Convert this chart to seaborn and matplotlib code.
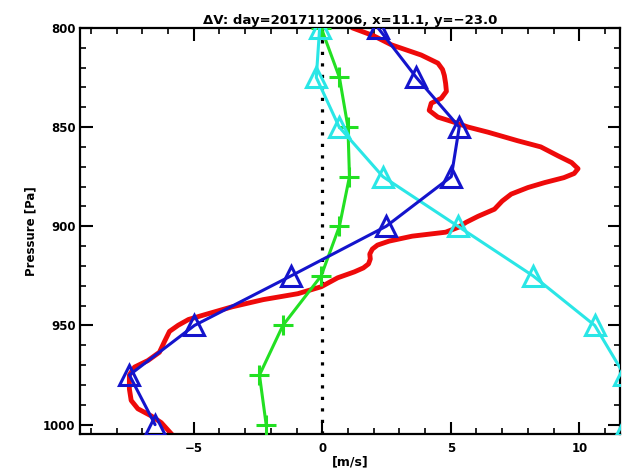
import matplotlib
matplotlib.use("Agg")
import matplotlib.pyplot as plt
from matplotlib.ticker import MultipleLocator
import pandas as pd
import seaborn as sns

sns.set_theme(style="white", rc={"text.color": "black", "axes.labelcolor": "black",
                                 "xtick.color": "black", "ytick.color": "black"})
plt.rcParams["font.family"] = ["DejaVu Sans"]

# Model levels (Pa) for the sampled profiles
levels = [800, 825, 850, 875, 900, 925, 950, 975, 1000]

# Wind-difference profiles at the model levels [m/s]
blue_dv = [2.17, 3.66, 5.33, 5.02, 2.49, -1.21, -4.97, -7.5, -6.5]
cyan_dv = [-0.1, -0.23, 0.66, 2.36, 5.28, 8.2, 10.6, 11.75, 11.8]
green_dv = [-0.04, 0.67, 1.0, 1.06, 0.67, -0.04, -1.53, -2.44, -2.18]

# High-resolution reference profile
red_p = [800, 804, 808.6, 813.7, 817.8, 821, 824, 828, 832, 835.5, 838, 841.6,
         845, 847.6, 850, 852.6, 856.9, 860, 864.5, 867.9, 871, 873.4, 875.5,
         878, 880.5, 883.8, 887.3, 891.4, 895, 898, 900.5, 903, 905, 907.5,
         909.5, 911.5, 914, 916.5, 919, 921, 923, 926, 930.5, 934, 937, 940.6,
         944.7, 947, 949.9, 953, 958, 963.5, 967.7, 971, 975, 982, 987.8, 992,
         995.6, 999, 1005.6]
red_dv = [1.17, 2.0, 2.7, 3.85, 4.5, 4.68, 4.75, 4.8, 4.83, 4.63, 4.24, 4.16,
          4.5, 5.14, 5.67, 6.45, 7.6, 8.5, 9.17, 9.7, 9.95, 9.8, 9.4, 8.65,
          8.0, 7.35, 7.0, 6.7, 6.06, 5.6, 5.3, 4.8, 3.5, 2.6, 2.15, 1.95, 1.85,
          1.87, 1.8, 1.6, 1.25, 0.6, -0.04, -0.95, -2.3, -3.5, -4.6, -5.2,
          -5.6, -5.94, -6.13, -6.33, -6.78, -7.3, -7.5, -7.5, -7.43, -7.17,
          -6.65, -6.26, -5.8]

title = "ΔV: day=2017112006, x=11.1, y=\u221223.0"

fig = plt.figure(figsize=(6.28, 4.72), dpi=100)
ax = fig.add_axes([0.127, 0.081, 0.861, 0.86])

# zero line
ax.axvline(0, color="black", lw=2.3, linestyle=(0, (1, 2.6)), zorder=1)

red_df = pd.DataFrame({"dv": red_dv, "p": red_p})
sns.lineplot(data=red_df, x="dv", y="p", sort=False, estimator=None, ax=ax,
             color="#ee0a0a", lw=3.5, zorder=2, solid_joinstyle="round",
             solid_capstyle="round")

prof = pd.DataFrame({"p": levels, "blue": blue_dv, "cyan": cyan_dv,
                     "green": green_dv})

sns.lineplot(data=prof, x="green", y="p", sort=False, estimator=None, ax=ax,
             color="#22e022", lw=2.2, marker="+", markersize=14,
             markeredgewidth=2.2, markeredgecolor="#22e022", zorder=3)
sns.lineplot(data=prof, x="cyan", y="p", sort=False, estimator=None, ax=ax,
             color="#2ae6e6", lw=2.2, marker="^", markersize=14.5,
             markerfacecolor="none", markeredgewidth=2.2,
             markeredgecolor="#2ae6e6", zorder=4)
sns.lineplot(data=prof, x="blue", y="p", sort=False, estimator=None, ax=ax,
             color="#1414cc", lw=2.2, marker="^", markersize=14.5,
             markerfacecolor="none", markeredgewidth=2.2,
             markeredgecolor="#1414cc", zorder=5)

ax.set_xlim(-9.43, 11.6)
ax.set_ylim(1004.6, 800)

ax.xaxis.set_major_locator(MultipleLocator(5))
ax.xaxis.set_minor_locator(MultipleLocator(1))
ax.yaxis.set_major_locator(MultipleLocator(50))
ax.yaxis.set_minor_locator(MultipleLocator(10))
ax.set_xticks([-5, 0, 5, 10])
ax.set_xticklabels(["\u22125", "0", "5", "10"])
ax.tick_params(which="both", direction="in", top=True, right=True,
               bottom=True, left=True, colors="black")
ax.tick_params(which="major", length=9, width=1.5, labelsize=8.5)
ax.tick_params(which="minor", length=4.5, width=1.2)
ax.tick_params(axis="x", which="major", pad=6)
ax.tick_params(axis="y", which="major", pad=3)
for lab in ax.get_xticklabels() + ax.get_yticklabels():
    lab.set_fontweight("bold")

for s in ax.spines.values():
    s.set_color("black")
    s.set_linewidth(1.6)

ax.set_xlabel("[m/s]", fontsize=9, fontweight="bold", labelpad=0)
ax.set_ylabel("Pressure [Pa]", fontsize=8.5, fontweight="bold", labelpad=4)
ax.set_title(title, fontsize=9.5, fontweight="bold", pad=3)

fig.savefig("out.png", dpi=100, facecolor="white")
